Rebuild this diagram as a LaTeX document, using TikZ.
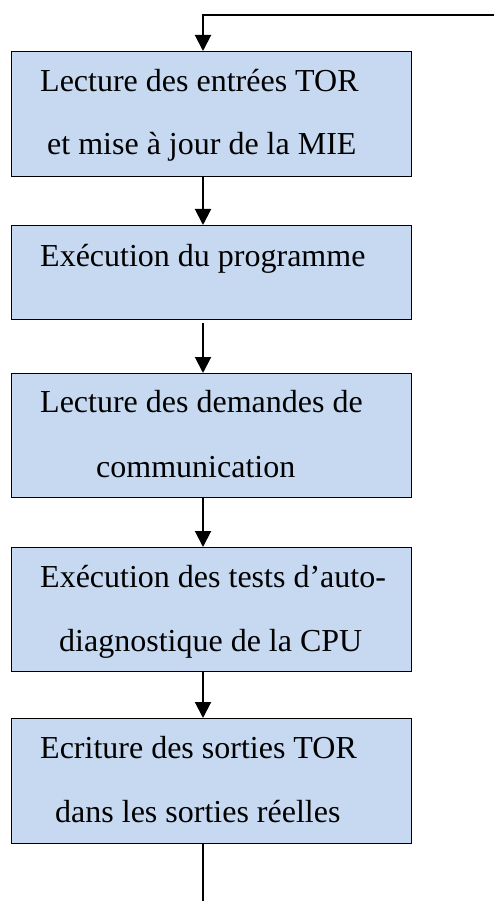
\documentclass[tikz,border=0pt]{standalone}
\usepackage{fontspec}
\setmainfont{Liberation Serif}
\usetikzlibrary{arrows.meta}
\definecolor{boxfill}{RGB}{198,217,241}
\tikzset{
  stepbox/.style={draw=black, line width=1.3pt, fill=boxfill, rectangle,
    minimum width=400pt, inner sep=0pt, anchor=north west},
  label/.style={anchor=base west, inner sep=0pt, font=\fontsize{32}{38}\selectfont},
  flow/.style={line width=2pt, -{Triangle[width=16pt,length=16pt]}},
  plain/.style={line width=2pt}
}
\begin{document}
\begin{tikzpicture}[x=1pt,y=-1pt]
\useasboundingbox (0,0) rectangle (494,901);
% vertical spine of the loop
\coordinate (spine) at (203,0);

% process blocks
\node[stepbox, minimum height=125pt] (b1) at (11,51) {};
\node[stepbox, minimum height=94pt]  (b2) at (11,225) {};
\node[stepbox, minimum height=124pt] (b3) at (11,373) {};
\node[stepbox, minimum height=124pt] (b4) at (11,547) {};
\node[stepbox, minimum height=125pt] (b5) at (11,718) {};

% block texts
\node[label] (t1a) at (40,92)  {Lecture des entrées TOR};
\node[label] (t1b) at (47,155) {et mise à jour de la MIE};
\node[label] (t2)  at (40,266) {Exécution du programme};
\node[label] (t3a) at (40,412) {Lecture des demandes de};
\node[label] (t3b) at (96,477) {communication};
\node[label] (t4a) at (40,587) {Exécution des tests d’auto-};
\node[label] (t4b) at (59,651) {diagnostique de la CPU};
\node[label] (t5a) at (40,758) {Ecriture des sorties TOR};
\node[label] (t5b) at (55,822) {dans les sorties réelles};

% loop entry and exit
\coordinate (loopin) at (494,15);
\coordinate (loopout) at (203,901);
\draw[flow] (loopin) -- (loopin -| spine) -- (b1.north -| spine);

% connectors between blocks
\draw[flow] (b1.south -| spine) -- (b2.north -| spine);
\draw[flow] ([yshift=-3pt]b2.south -| spine) -- (b3.north -| spine);
\draw[flow] (b3.south -| spine) -- (b4.north -| spine);
\draw[flow] (b4.south -| spine) -- (b5.north -| spine);
\draw[plain] (b5.south -| spine) -- (loopout);
\end{tikzpicture}
\end{document}
